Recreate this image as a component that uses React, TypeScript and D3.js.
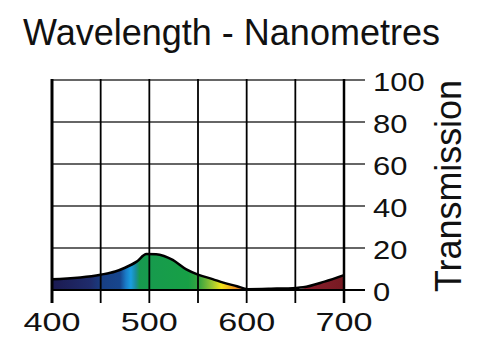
import React, { useRef, useEffect } from "react";
import * as d3 from "d3";

// transmission curve
const wavelengths = [400, 450, 465, 475, 487, 497, 507, 515, 524, 538, 550, 565, 576, 590, 601, 625, 651, 658, 680, 700];
const transmission = [5.1, 7.3, 8.8, 10.6, 13.5, 17.1, 17.0, 16.2, 14.3, 9.8, 7.3, 5.2, 3.5, 1.8, 0.4, 0.6, 1.0, 1.3, 4.0, 7.1];

const xTicks = [400, 450, 500, 550, 600, 650, 700];
const xLabels = [400, 500, 600, 700];
const yTicks = [0, 20, 40, 60, 80, 100];

// spectrum colour stops (wavelength, colour)
const stopNm = [400, 440, 452, 470, 476, 481, 486, 490, 540, 552, 565, 574, 586, 600, 601.5, 655, 660, 700];
const stopColor = ["#1b1a50", "#1f2c6c", "#183f84", "#17468e", "#1a7cc8", "#1a9ee0", "#1a8c9c", "#17994f", "#17a046", "#3ca63e", "#9fc832", "#f2e41b", "#f0a020", "#e0562a", "#ffffff", "#ffffff", "#8a1e2c", "#761a22"];

const App = () => {
  const svgRef = useRef();

  useEffect(() => {
    const svg = d3.select(svgRef.current);
    svg.selectAll("*").remove();

    const x = d3.scaleLinear().domain([400, 700]).range([52, 344]);
    const y = d3.scaleLinear().domain([0, 100]).range([290, 80]);
    const font = "'Liberation Sans', Arial, Helvetica, sans-serif";

    const data = wavelengths.map((w, i) => ({ w, t: transmission[i] }));

    // gradient in user space along the x axis
    const grad = svg
      .append("defs")
      .append("linearGradient")
      .attr("id", "spectrum")
      .attr("gradientUnits", "userSpaceOnUse")
      .attr("x1", x(400))
      .attr("x2", x(700))
      .attr("y1", 0)
      .attr("y2", 0);
    stopNm.forEach((nm, i) => {
      grad
        .append("stop")
        .attr("offset", (nm - 400) / 300)
        .attr("stop-color", stopColor[i]);
    });

    const area = d3
      .area()
      .x((d) => x(d.w))
      .y0(y(0))
      .y1((d) => y(d.t))
      .curve(d3.curveMonotoneX);
    const line = d3
      .line()
      .x((d) => x(d.w))
      .y((d) => y(d.t))
      .curve(d3.curveMonotoneX);

    svg.append("path").datum(data).attr("d", area).attr("fill", "url(#spectrum)");

    // horizontal grid lines, running out past the right axis as ticks
    svg
      .append("g")
      .selectAll("line")
      .data(yTicks)
      .join("line")
      .attr("x1", x(400))
      .attr("x2", x(700) + 21)
      .attr("y1", (d) => y(d))
      .attr("y2", (d) => y(d))
      .attr("stroke", (d) => (d === 0 ? "#000" : "#333"))
      .attr("stroke-width", (d) => (d === 0 ? 2 : 1.5));

    // vertical grid lines, running below the baseline as ticks
    svg
      .append("g")
      .selectAll("line")
      .data(xTicks)
      .join("line")
      .attr("x1", (d) => x(d))
      .attr("x2", (d) => x(d))
      .attr("y1", y(100) - 1)
      .attr("y2", y(0) + 13)
      .attr("stroke", "#000")
      .attr("stroke-width", (d) => (d === 400 ? 3 : d === 700 ? 2.5 : 1.8));

    svg
      .append("path")
      .datum(data)
      .attr("d", line)
      .attr("fill", "none")
      .attr("stroke", "#000")
      .attr("stroke-width", 2.5)
      .attr("stroke-linejoin", "round");

    // x labels
    svg
      .append("g")
      .selectAll("text")
      .data(xLabels)
      .join("text")
      .attr("x", (d) => x(d))
      .attr("y", 331)
      .attr("text-anchor", "middle")
      .attr("font-family", font)
      .attr("font-size", 25)
      .attr("textLength", 57)
      .attr("lengthAdjust", "spacingAndGlyphs")
      .attr("fill", "#111")
      .text((d) => d);

    // y labels on the right
    svg
      .append("g")
      .selectAll("text")
      .data(yTicks)
      .join("text")
      .attr("x", 373)
      .attr("y", (d) => y(d) + 11)
      .attr("font-family", font)
      .attr("font-size", 25)
      .attr("textLength", (d) => String(d).length * 17.2)
      .attr("lengthAdjust", "spacingAndGlyphs")
      .attr("fill", "#111")
      .text((d) => d);

    // title
    svg
      .append("text")
      .attr("x", 23)
      .attr("y", 45)
      .attr("font-family", font)
      .attr("font-size", 36)
      .attr("textLength", 417)
      .attr("lengthAdjust", "spacingAndGlyphs")
      .attr("fill", "#111")
      .text("Wavelength - Nanometres");

    // axis title
    svg
      .append("text")
      .attr("transform", "translate(461,292) rotate(-90)")
      .attr("font-family", font)
      .attr("font-size", 36)
      .attr("textLength", 212)
      .attr("lengthAdjust", "spacingAndGlyphs")
      .attr("fill", "#111")
      .text("Transmission");
  }, []);

  return (
    <svg
      ref={svgRef}
      width={500}
      height={352}
      style={{ position: "absolute", left: 0, top: 0, background: "#fff" }}
    ></svg>
  );
};

export default App;
